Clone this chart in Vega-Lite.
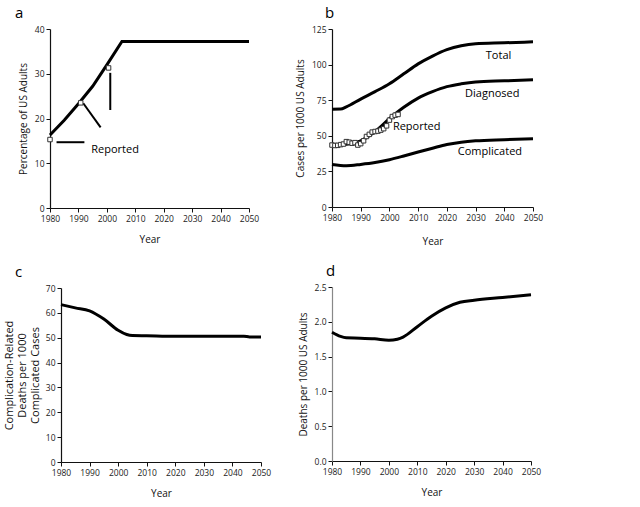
{
  "$schema": "https://vega.github.io/schema/vega-lite/v6.json",
  "background": "white",
  "padding": {"left": 3, "top": 6, "right": 5, "bottom": 5},
  "config": {
    "font": "Open Sans",
    "view": {"stroke": null},
    "axis": {"grid": false, "domainColor": "#111", "tickColor": "#111", "labelColor": "#222", "titleColor": "#111", "labelFont": "Open Sans", "titleFont": "Open Sans", "labelFontSize": 8.5, "titleFontSize": 10, "titleFontWeight": "normal", "tickSize": 4, "domainWidth": 1.2, "labelPadding": 2, "labelOverlap": false, "labelFlush": false, "labelBound": false},
    "title": {"font": "Open Sans", "fontSize": 15, "fontWeight": "normal", "anchor": "start", "frame": "group"}
  },
  "datasets": {
    "aLine": [
      {"year": 1980, "v": 16.3}, {"year": 1985, "v": 19.6}, {"year": 1990, "v": 23.3}, {"year": 1995, "v": 27.2},
      {"year": 2000, "v": 32.0}, {"year": 2005.3, "v": 37.2}, {"year": 2050, "v": 37.2}
    ],
    "aRep": [
      {"year": 1980, "v": 15.3}, {"year": 1990.8, "v": 23.5}, {"year": 2000.6, "v": 31.3}
    ],
    "aLead": [
      {"year": 1982.3, "year2": 1992.1, "v": 14.7, "v2": 14.7},
      {"year": 1991.7, "year2": 1997.8, "v": 23.4, "v2": 18.0},
      {"year": 2001.2, "year2": 2001.2, "v": 30.2, "v2": 21.9}
    ],
    "aText": [{"year": 1994.5, "v": 13, "label": "Reported"}],
    "bLines": [
      {"s": "Total", "year": 1980, "v": 68.7}, {"s": "Total", "year": 1983, "v": 68.8}, {"s": "Total", "year": 1985, "v": 70.3}, {"s": "Total", "year": 1990, "v": 75.8},
      {"s": "Total", "year": 1995, "v": 81}, {"s": "Total", "year": 2000, "v": 86.5}, {"s": "Total", "year": 2005, "v": 93.5},
      {"s": "Total", "year": 2010, "v": 100.5}, {"s": "Total", "year": 2015, "v": 106}, {"s": "Total", "year": 2020, "v": 110.5},
      {"s": "Total", "year": 2025, "v": 113.3}, {"s": "Total", "year": 2030, "v": 114.7}, {"s": "Total", "year": 2040, "v": 115.3}, {"s": "Total", "year": 2050, "v": 116},
      {"s": "Diagnosed", "year": 1980, "v": 43.5}, {"s": "Diagnosed", "year": 1985, "v": 44}, {"s": "Diagnosed", "year": 1990, "v": 46.5},
      {"s": "Diagnosed", "year": 1995, "v": 53}, {"s": "Diagnosed", "year": 2000, "v": 62}, {"s": "Diagnosed", "year": 2005, "v": 70},
      {"s": "Diagnosed", "year": 2010, "v": 76.5}, {"s": "Diagnosed", "year": 2015, "v": 81}, {"s": "Diagnosed", "year": 2020, "v": 84.5},
      {"s": "Diagnosed", "year": 2025, "v": 86.5}, {"s": "Diagnosed", "year": 2030, "v": 87.8}, {"s": "Diagnosed", "year": 2040, "v": 88.6}, {"s": "Diagnosed", "year": 2050, "v": 89.3},
      {"s": "Complicated", "year": 1980, "v": 29.9}, {"s": "Complicated", "year": 1985, "v": 29}, {"s": "Complicated", "year": 1990, "v": 29.9},
      {"s": "Complicated", "year": 1995, "v": 31.2}, {"s": "Complicated", "year": 2000, "v": 33.2}, {"s": "Complicated", "year": 2005, "v": 35.8},
      {"s": "Complicated", "year": 2010, "v": 38.6}, {"s": "Complicated", "year": 2015, "v": 41.3}, {"s": "Complicated", "year": 2020, "v": 43.9},
      {"s": "Complicated", "year": 2025, "v": 45.5}, {"s": "Complicated", "year": 2030, "v": 46.5}, {"s": "Complicated", "year": 2040, "v": 47.3}, {"s": "Complicated", "year": 2050, "v": 47.9}
    ],
    "bRep": [
      {"year": 1980, "v": 43.5}, {"year": 1981, "v": 43.2}, {"year": 1982, "v": 43.3}, {"year": 1983, "v": 43.8}, {"year": 1984, "v": 44.2},
      {"year": 1985, "v": 45.9}, {"year": 1986, "v": 45.5}, {"year": 1987, "v": 44.8}, {"year": 1988, "v": 45.2}, {"year": 1989, "v": 43.5},
      {"year": 1990, "v": 44.5}, {"year": 1991, "v": 46.5}, {"year": 1992, "v": 49.5}, {"year": 1993, "v": 51}, {"year": 1994, "v": 52.6},
      {"year": 1995, "v": 53}, {"year": 1996, "v": 53.3}, {"year": 1997, "v": 54}, {"year": 1998, "v": 55}, {"year": 1999, "v": 57},
      {"year": 2000, "v": 61}, {"year": 2001, "v": 63.5}, {"year": 2002, "v": 64.5}, {"year": 2003, "v": 65}
    ],
    "bText": [
      {"year": 2038, "v": 105.8, "label": "Total"},
      {"year": 2035.8, "v": 79.4, "label": "Diagnosed"},
      {"year": 2009.5, "v": 56, "label": "Reported"},
      {"year": 2035, "v": 38.5, "label": "Complicated"}
    ],
    "cLine": [
      {"year": 1980, "v": 63.3}, {"year": 1985, "v": 62}, {"year": 1990, "v": 60.8}, {"year": 1995, "v": 57.5},
      {"year": 2000, "v": 53}, {"year": 2003, "v": 51.3}, {"year": 2005, "v": 50.9}, {"year": 2010, "v": 50.8},
      {"year": 2020, "v": 50.6}, {"year": 2044, "v": 50.6}, {"year": 2046, "v": 50.3}, {"year": 2050, "v": 50.3}
    ],
    "dLine": [
      {"year": 1980, "v": 1.85}, {"year": 1983, "v": 1.79}, {"year": 1985, "v": 1.77}, {"year": 1990, "v": 1.765},
      {"year": 1995, "v": 1.755}, {"year": 2000, "v": 1.735}, {"year": 2003, "v": 1.75}, {"year": 2005, "v": 1.78},
      {"year": 2010, "v": 1.93}, {"year": 2015, "v": 2.08}, {"year": 2020, "v": 2.2}, {"year": 2025, "v": 2.28},
      {"year": 2030, "v": 2.31}, {"year": 2040, "v": 2.35}, {"year": 2050, "v": 2.39}
    ]
  },
  "spacing": 24,
  "hconcat": [
    {
      "spacing": 20,
      "vconcat": [
        {
          "width": 199, "height": 179,
          "title": {"text": "a", "dx": -35},
          "encoding": {
            "x": {"field": "year", "type": "quantitative", "scale": {"domain": [1980, 2050], "nice": false}, "axis": {"values": [1980,1990,2000,2010,2020,2030,2040,2050], "format": "d", "title": "Year", "titlePadding": 12, "labelOverlap": false}},
            "y": {"field": "v", "type": "quantitative", "scale": {"domain": [0, 40], "nice": false}, "axis": {"values": [0,10,20,30,40], "title": "Percentage of US Adults", "titlePadding": 6, "labelOverlap": false}}
          },
          "layer": [
            {"data": {"name": "aLine"}, "mark": {"type": "line", "color": "black", "strokeWidth": 3}},
            {"data": {"name": "aLead"}, "mark": {"type": "rule", "color": "black", "strokeWidth": 2},
             "encoding": {"x2": {"field": "year2"}, "y2": {"field": "v2"}}},
            {"data": {"name": "aRep"}, "mark": {"type": "point", "shape": "square", "filled": true, "fill": "white", "stroke": "#333", "strokeWidth": 1, "size": 20, "opacity": 1}},
            {"data": {"name": "aText"}, "mark": {"type": "text", "align": "left", "baseline": "middle", "fontSize": 11, "font": "Open Sans", "color": "black"},
             "encoding": {"text": {"field": "label"}}}
          ]
        },
        {
          "width": 211, "height": 174,
          "title": {"text": "c", "dx": -35},
          "data": {"name": "cLine"},
          "mark": {"type": "line", "color": "black", "strokeWidth": 3, "interpolate": "monotone"},
          "encoding": {
            "x": {"field": "year", "type": "quantitative", "scale": {"domain": [1980, 2050], "nice": false, "range": [11, 211]}, "axis": {"values": [1980,1990,2000,2010,2020,2030,2040,2050], "format": "d", "title": "Year", "titlePadding": 12}},
            "y": {"field": "v", "type": "quantitative", "scale": {"domain": [0, 70], "nice": false}, "axis": {"values": [0,10,20,30,40,50,60,70], "offset": -11, "title": ["Complication-Related", "Deaths per 1000", "Complicated Cases"], "titlePadding": 4.5, "titleFontSize": 11, "titleLineHeight": 13}}
          }
        }
      ]
    },
    {
      "spacing": 17,
      "vconcat": [
        {
          "width": 201, "height": 178,
          "title": {"text": "b", "dx": -7},
          "encoding": {
            "x": {"field": "year", "type": "quantitative", "scale": {"domain": [1980, 2050], "nice": false}, "axis": {"values": [1980,1990,2000,2010,2020,2030,2040,2050], "format": "d", "title": "Year", "titlePadding": 15, "labelOverlap": false}},
            "y": {"field": "v", "type": "quantitative", "scale": {"domain": [0, 125], "nice": false}, "axis": {"values": [0,25,50,75,100,125], "title": "Cases per 1000 US Adults", "titlePadding": 6, "labelOverlap": false}}
          },
          "layer": [
            {"data": {"name": "bLines"}, "mark": {"type": "line", "color": "black", "strokeWidth": 3, "interpolate": "monotone"},
             "encoding": {"detail": {"field": "s"}}},
            {"data": {"name": "bRep"}, "mark": {"type": "point", "shape": "square", "filled": true, "fill": "white", "stroke": "#333", "strokeWidth": 1, "size": 20, "opacity": 1}},
            {"data": {"name": "bText"}, "mark": {"type": "text", "align": "center", "baseline": "middle", "fontSize": 11, "font": "Open Sans", "color": "black"},
             "encoding": {"text": {"field": "label"}}}
          ]
        },
        {
          "width": 199, "height": 174,
          "title": {"text": "d", "dx": -6},
          "data": {"name": "dLine"},
          "mark": {"type": "line", "color": "black", "strokeWidth": 3, "interpolate": "monotone"},
          "encoding": {
            "x": {"field": "year", "type": "quantitative", "scale": {"domain": [1980, 2050], "nice": false}, "axis": {"values": [1980,1990,2000,2010,2020,2030,2040,2050], "format": "d", "title": "Year", "titlePadding": 12}},
            "y": {"field": "v", "type": "quantitative", "scale": {"domain": [0, 2.5], "nice": false}, "axis": {"values": [0,0.5,1,1.5,2,2.5], "format": ".1f", "title": "Deaths per 1000 US Adults", "titlePadding": 6, "domainColor": "#888"}}
          }
        }
      ]
    }
  ]
}
